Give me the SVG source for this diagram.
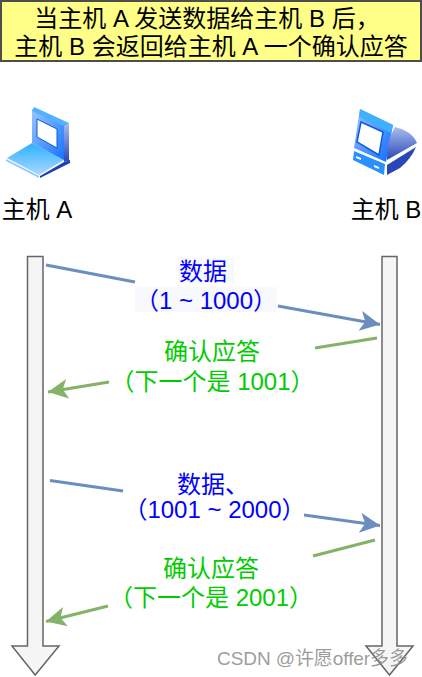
<svg xmlns="http://www.w3.org/2000/svg" width="422" height="677" viewBox="0 0 422 677">
<style>
text{font-family:"Liberation Sans","Noto Sans CJK SC",sans-serif;font-size:24px;text-anchor:middle}
.k{fill:#000}.b{fill:#0000ff}.g{fill:#00cc00}
.shaft{fill:#f5f5f5;stroke:#666;stroke-width:1.5}
.bl{stroke:#6c8ebf;stroke-width:3;fill:none}
.gl{stroke:#82b366;stroke-width:3;fill:none}
.wm{font-size:19px;fill:#8a8a8a;fill-opacity:.85;text-anchor:start}
</style>
<defs>
<linearGradient id="g1" x1="0" y1="0" x2="0" y2="1"><stop offset="0" stop-color="#2fb0ff"/><stop offset="1" stop-color="#a8d8ff"/></linearGradient>
<linearGradient id="g2" x1="0" y1="0" x2="1" y2="1"><stop offset="0" stop-color="#9cc4ff"/><stop offset="1" stop-color="#0a6cff"/></linearGradient>
<linearGradient id="g3" x1="0" y1="0" x2="0" y2="1"><stop offset="0" stop-color="#a9bdf0"/><stop offset="1" stop-color="#2a47b8"/></linearGradient>
<marker id="ab" markerUnits="userSpaceOnUse" markerWidth="24" markerHeight="24" refX="20" refY="10" orient="auto"><path d="M0 0L20 10 0 20 5 10z" fill="#6c8ebf"/></marker>
<marker id="ag" markerUnits="userSpaceOnUse" markerWidth="24" markerHeight="24" refX="20" refY="10" orient="auto"><path d="M0 0L20 10 0 20 5 10z" fill="#82b366"/></marker>
</defs>
<g id="banner">
<rect x="1" y="1" width="420" height="60" fill="#ffff88" stroke="#4d4d4d" stroke-width="2"/>
<text class="k" x="207" y="27">当主机 A 发送数据给主机 B 后，</text>
<text class="k" x="211" y="55">主机 B 会返回给主机 A 一个确认应答</text>
</g>
<g id="host-a">
<polygon points="32,109 69,124 69,162 63,160 32,143" fill="url(#g2)"/>
<polygon points="34,107 69,123 64,126 32,111" fill="#4fb4ff"/>
<polygon points="64,126 69,123 69,160 64,162" fill="url(#g3)"/>
<polygon points="37,119 57,129 57,148 37,137" fill="#fff" stroke="#0a5ce0" stroke-width="1"/>
<polygon points="7,158 32,143 64,160 39,175" fill="url(#g1)"/>
<polygon points="6,159 39,176 39,178 6,161" fill="#8cc8ff"/>
<polygon points="40,176 64,162 70,160 70,163 40,178" fill="#1f3fb0"/>
<text class="k" x="37" y="218">主机 A</text>
</g>
<g id="host-b">
<polygon points="360,109 393,125 386,162 354,148" fill="url(#g2)"/>
<polygon points="360,109 393,125 391,133 359,117" fill="#3fb0ff"/>
<polygon points="361,122 383,132 379,155 357,142" fill="#fff" stroke="#0a5ce0" stroke-width="1.5"/>
<polygon points="354,151 385,164 384,175 353,160" fill="#2a90ff"/>
<path d="M395 127Q412 131 417 143L387 160Q386 142 395 127z" fill="url(#g3)"/>
<path d="M416 147Q411 159 400 168L387 175L387 165z" fill="#2a47b8"/>
<polygon points="356,156 361,158 361,160 356,158" fill="#fff"/>
<polygon points="374,165 379,167 379,169 374,167" fill="#fff"/>
<text class="k" x="386" y="218">主机 B</text>
</g>
<g id="timeline-a"><polygon class="shaft" points="27.5,256.5 43,256.5 43,646 59,646 35.2,675 12,646 27.5,646"/></g>
<g id="timeline-b"><polygon class="shaft" points="382,256.5 397,256.5 397,646 413,646 389.5,675 366,646 382,646"/></g>
<g id="connectors">
<line class="bl" x1="46" y1="265" x2="135" y2="282"/>
<line class="bl" x1="278" y1="306" x2="380" y2="324.5" marker-end="url(#ab)"/>
<line class="gl" x1="377" y1="338" x2="315" y2="348"/>
<line class="gl" x1="109" y1="382" x2="48" y2="392" marker-end="url(#ag)"/>
<line class="bl" x1="50" y1="480.5" x2="123" y2="491"/>
<line class="bl" x1="304" y1="515" x2="380" y2="525.5" marker-end="url(#ab)"/>
<line class="gl" x1="375" y1="540" x2="313" y2="556"/>
<line class="gl" x1="108" y1="606" x2="46" y2="621.5" marker-end="url(#ag)"/>
</g>
<g id="label-data-1">
<rect x="178" y="258" width="56" height="25" fill="#f8f9fc"/>
<rect x="135" y="287" width="142" height="25" fill="#f8f9fc"/>
<text class="b" x="203" y="280">数据</text>
<text class="b" x="206" y="309">（1 ~ 1000）</text>
</g>
<g id="label-ack-1">
<text class="g" x="212" y="360">确认应答</text>
<text class="g" x="212.500" y="390">（下一个是 1001）</text>
</g>
<g id="label-data-2">
<text class="b" x="213" y="493">数据、</text>
<text class="b" x="214.500" y="518">（1001 ~ 2000）</text>
</g>
<g id="label-ack-2">
<text class="g" x="211" y="577">确认应答</text>
<text class="g" x="211" y="606">（下一个是 2001）</text>
</g>
<text class="wm" x="217" y="665" textLength="191">CSDN @许愿offer多多</text>
</svg>
